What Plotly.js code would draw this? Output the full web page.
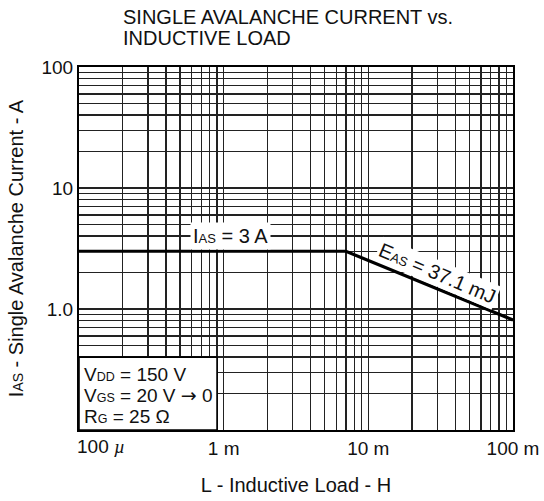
<!DOCTYPE html>
<html><head><meta charset="utf-8">
<script src="https://cdn.plot.ly/plotly-3.0.1.min.js"></script>
<style>html,body{margin:0;padding:0;background:#fff}#chart{width:544px;height:501px}</style>
</head><body><div id="chart"></div>
<script>
// Data
const inductanceH = [1e-4, 7e-3, 0.1];
const avalancheCurrentA = [3, 3, 0.81];

// Grid / tick definitions
const xDecades = [1e-4, 1e-3, 1e-2];
const yDecades = [0.1, 1, 10];
const gridSteps = [1, 2, 3, 4, 5, 6, 7, 8, 9];
const xLabelVals = [1e-3, 1e-2, 1e-1];
const xLabelText = ['1 m', '10 m', '100 m'];
const yLabelVals = [1, 10, 100];
const yLabelText = ['1.0', '10', '100'];
const titleLines = ['SINGLE AVALANCHE CURRENT vs.', 'INDUCTIVE LOAD'];

function buildTicks(decades, labelVals, labelText) {
  const vals = [];
  decades.forEach(d => gridSteps.forEach(s => vals.push(+(d * s).toPrecision(3))));
  vals.push(+(decades[decades.length - 1] * 10).toPrecision(3));
  const text = vals.map(v => {
    const i = labelVals.findIndex(l => Math.abs(l - v) / l < 1e-6);
    return i >= 0 ? labelText[i] : '';
  });
  return {vals, text};
}
const xt = buildTicks(xDecades, xLabelVals, xLabelText);
const yt = buildTicks(yDecades, yLabelVals, yLabelText);

const W = 544, H = 501;
const M = {l: 79, r: 31, t: 67, b: 71};
const PW = W - M.l - M.r, PH = H - M.t - M.b;
const px = x => (x - M.l) / PW;
const py = y => (H - M.b - y) / PH;

const FONT = 'Liberation Sans, Arial, Helvetica, sans-serif';
const INK = '#111';
const sm = (t, s) => `<span style="font-size:${s || 13}px">${t}</span>`;
const arrow = '<span style="font-family:DejaVu Sans">\u2192</span>';

const trace = {
  x: inductanceH, y: avalancheCurrentA, type: 'scatter', mode: 'lines',
  line: {color: '#000', width: 3.2}, hoverinfo: 'x+y', showlegend: false
};

function ann(text, x, y, opts) {
  return Object.assign({text, x: px(x), y: py(y), xref: 'paper', yref: 'paper',
    xanchor: 'left', yanchor: 'middle', showarrow: false, align: 'left',
    font: {family: FONT, size: 19, color: INK}}, opts || {});
}
const F20 = {family: FONT, size: 20, color: INK};

const layout = {
  width: W, height: H, margin: M,
  paper_bgcolor: '#fff', plot_bgcolor: '#fff',
  font: {family: FONT, size: 19, color: INK},
  showlegend: false,
  xaxis: {
    type: 'log', range: [-4, -1], tickmode: 'array', tickvals: xt.vals, ticktext: xt.text,
    showgrid: true, gridcolor: '#222', gridwidth: 1.4, zeroline: false,
    showline: true, mirror: true, linecolor: '#000', linewidth: 2,
    ticks: '', tickfont: {size: 19, family: FONT, color: INK},
    title: {text: 'L - Inductive Load - H', font: F20, standoff: 20}
  },
  yaxis: {
    type: 'log', range: [-1, 2], tickmode: 'array', tickvals: yt.vals, ticktext: yt.text,
    showgrid: true, gridcolor: '#222', gridwidth: 1.4, zeroline: false,
    showline: true, mirror: true, linecolor: '#000', linewidth: 2,
    ticks: '', tickfont: {size: 19, family: FONT, color: INK},
    title: {text: 'I' + sm('AS', 14) + ' - Single Avalanche Current - A', font: F20, standoff: 12}
  },
  shapes: [{
    type: 'rect', xref: 'x', yref: 'y', x0: 1e-4, x1: 9e-4, y0: 0.1, y1: 0.4,
    fillcolor: '#fff', line: {color: '#000', width: 1.6}, layer: 'above'
  }],
  annotations: [
    ann(titleLines[0], 120.5, 17.4, {font: F20}),
    ann(titleLines[1], 120.5, 38.2, {font: F20}),
    ann('V' + sm('DD', 12.5) + ' = 150 V', 81.5, 374.2),
    ann('V' + sm('GS', 12.5) + ' = 20 V ' + arrow + ' 0', 81.5, 395.2),
    ann('R' + sm('G', 12.5) + ' = 25 \u03A9', 81.5, 416),
    ann('I' + sm('AS') + ' = 3 A', 230, 235.5, {xanchor: 'center', bgcolor: '#fff', borderpad: 2, font: F20}),
    ann('E' + sm('AS') + ' = 37.1 mJ', 437, 273, {xanchor: 'center', bgcolor: '#fff', borderpad: 1, textangle: 23, font: F20}),
    ann('100 <span style="font-family:Liberation Serif, Times New Roman, serif"><i>\u00B5</i></span>', 74.5, 446.7)
  ]
};

Plotly.newPlot('chart', [trace], layout, {displayModeBar: false, staticPlot: true});
</script>
</body></html>
